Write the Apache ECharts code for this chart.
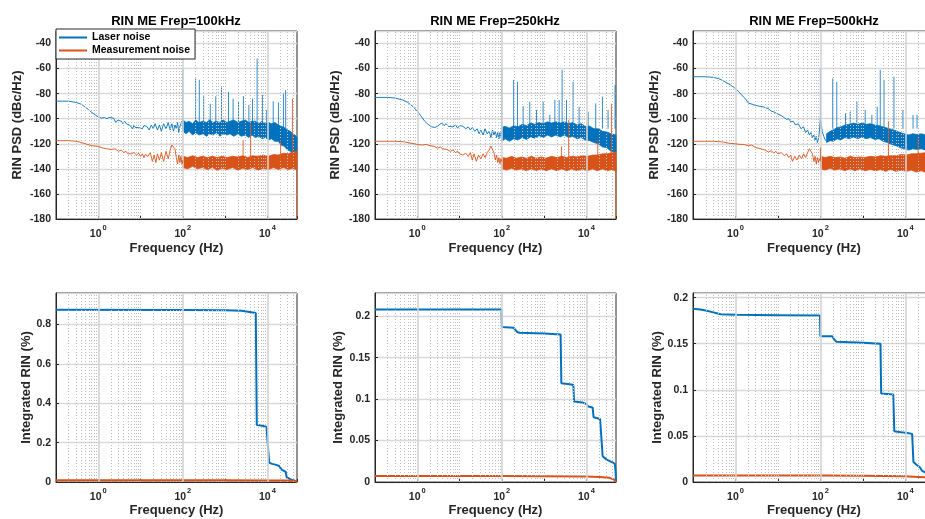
<!DOCTYPE html>
<html><head><meta charset="utf-8">
<script src="https://cdn.jsdelivr.net/npm/echarts@6/dist/echarts.min.js"></script>
<style>html,body{margin:0;padding:0;background:#fff}#c{width:925px;height:519px}</style>
</head><body><div id="c"></div>
<script>
// ---------------- DATA ----------------
const titles = ['RIN ME Frep=100kHz', 'RIN ME Frep=250kHz', 'RIN ME Frep=500kHz'];
const xTickExps = [0, 2, 4];          // labelled decades 10^0, 10^2, 10^4
const freqMin = 0.1, freqMax = 50000;

// ---- 100 kHz : RIN PSD [Hz, dBc/Hz]
const laserLine100 = [[0.1,-86],[0.2,-86],[0.3,-87],[0.4,-88.5],[0.5,-91],[0.6,-93],[0.7,-95],[0.85,-97],[1,-98.5],[1.2,-99.5],[1.4,-99],[1.6,-100],[1.8,-99],[2,-100.5],[2.3,-99.5],[2.6,-103],[2.9,-101],[3.2,-100],[3.5,-102],[3.8,-104],[4.2,-102],[4.6,-104],[5,-103],[5.5,-105],[6,-104],[6.5,-108],[7,-105],[7.5,-107],[8,-106],[9,-107],[10,-106],[11,-108],[12,-105.5],[13,-107],[14,-106],[16,-109],[18,-105],[20,-108],[22,-104],[25,-109],[28,-105],[31,-110],[35,-104],[40,-108],[45,-103],[50,-109],[55,-104],[60,-110],[65,-105],[70,-108],[75,-103],[80,-111],[85,-106],[90,-104],[95,-102],[100,-104]];
// noise band [Hz, lower dB, upper dB]
const laserBand100 = [[100,-110,-101],[120,-112,-103],[140,-110,-102],[170,-113,-104],[200,-111,-101],[240,-113,-103],[300,-112,-102],[360,-114,-103],[430,-112,-101],[520,-113,-103],[620,-111,-102],[750,-114,-103],[900,-112,-101],[1100,-113,-103],[1300,-112,-102],[1600,-114,-101],[2000,-112,-103],[2400,-114,-102],[3000,-113,-101],[3600,-115,-103],[4300,-113,-102],[5200,-115,-102],[6200,-114,-104],[7500,-116,-102],[9000,-115,-104],[10500,-117,-103],[12500,-116,-104],[15000,-118,-103],[18000,-118,-105],[21000,-121,-106],[25000,-122,-107],[30000,-125,-109],[35000,-126,-110],[40000,-129,-112],[45000,-128,-113],[50000,-130,-115]];
const laserSpikes100 = [[100,-60],[200,-68],[245,-69],[310,-82],[445,-88],[600,-82],[820,-75],[1200,-78.5],[1540,-84],[2070,-86],[2700,-82],[3640,-89],[4430,-84],[5700,-52],[7600,-81],[9600,-93],[13700,-86],[18200,-87],[23900,-80],[27000,-77]];
const measLine100 = [[0.1,-117.5],[0.2,-117.5],[0.3,-118],[0.4,-119],[0.5,-120],[0.7,-121.5],[1,-122],[1.3,-123.5],[1.6,-124],[2,-124.5],[2.5,-124],[3,-126],[3.5,-125],[4,-127],[4.5,-126],[5,-128],[5.5,-126.5],[6,-128],[7,-127],[8,-129],[9,-127.5],[10,-130],[11,-128],[12,-131],[13,-128.5],[15,-130],[17,-127],[19,-134],[21,-129],[23,-135],[25,-128],[28,-133],[31,-127],[35,-134],[40,-126],[45,-132],[50,-125],[55,-121],[60,-119.5],[65,-124],[70,-131],[75,-136],[80,-129],[85,-135],[90,-130],[95,-136],[100,-133]];
const measBand100 = [[100,-139,-130],[130,-140,-131],[170,-138,-129.5],[220,-140,-131],[290,-139,-130],[380,-140.5,-131],[500,-139,-130],[650,-141,-131],[850,-139.5,-130],[1100,-140.5,-131],[1500,-139,-130],[2000,-141,-130.5],[2600,-139.5,-129.5],[3400,-140.5,-131],[4500,-139,-129.5],[6000,-141,-130],[8000,-139.5,-129],[10500,-140.5,-130],[14000,-139,-128.5],[18000,-140.5,-129],[24000,-139,-127.5],[31000,-140.5,-128],[40000,-139.5,-126.5],[50000,-141,-126]];
const measSpikes100 = [[2660,-117],[4000,-104],[20500,-117],[39000,-84],[49500,-180]];

// ---- 250 kHz
const laserLine250 = [[0.1,-83],[0.2,-83],[0.3,-83.5],[0.45,-85],[0.6,-87],[0.8,-90.5],[1,-94],[1.2,-97.5],[1.5,-102],[1.8,-104.5],[2.2,-106.5],[2.6,-107],[3,-106],[3.4,-104.5],[3.8,-103.5],[4.3,-105.5],[4.8,-104],[5.4,-106],[6,-105],[7,-106.5],[8,-105],[9,-107.5],[10,-105.5],[11,-107],[12,-106],[14,-108],[16,-106.5],[18,-109],[20,-107],[23,-110],[26,-108],[29,-112],[32,-109],[36,-113],[40,-108],[45,-112],[50,-110],[55,-115],[60,-109],[65,-113],[70,-110],[75,-115],[80,-111],[85,-116],[90,-111],[95,-114],[100,-110]];
const laserBand250 = [[100,-118,-107],[120,-116,-106],[150,-118,-107.5],[190,-116,-105.5],[240,-117,-106.5],[300,-115,-104.5],[380,-116.5,-105.5],[480,-114.5,-103.5],[600,-115.5,-104.5],[760,-113.5,-103],[950,-115,-104],[1200,-113,-102.5],[1500,-114.5,-103.5],[1900,-113,-102.5],[2400,-114.5,-103.5],[3000,-113,-102.5],[3800,-115,-104],[4800,-114,-103],[6000,-116,-105],[7500,-115,-104],[9500,-117,-106],[12000,-117.5,-106],[15000,-119,-108],[19000,-120,-108],[24000,-122.5,-110],[30000,-123,-110.5],[38000,-126,-112],[50000,-127,-113]];
const laserSpikes250 = [[100,-60],[190,-69],[234,-70.5],[319,-90],[457,-86.5],[660,-93],[946,-86.5],[1360,-97],[1790,-85],[2260,-85],[2660,-61],[3380,-85],[4840,-70.5],[6710,-90.4],[10960,-94.4],[16600,-87.7],[23900,-82.4],[32500,-93],[47500,-73]];
const measLine250 = [[0.1,-118],[0.3,-118],[0.5,-118.5],[0.7,-119.5],[1,-120.5],[1.3,-121],[1.6,-120.5],[2,-121.5],[2.5,-122],[3,-123.5],[3.5,-122.5],[4,-124],[5,-124.5],[6,-126],[7,-125],[8,-127],[9,-126],[10,-128],[11,-126.5],[12,-129],[14,-127.5],[16,-130],[18,-127],[20,-133],[22,-128],[25,-134],[28,-129],[32,-132],[36,-128],[40,-131],[45,-127],[50,-125],[55,-122],[60,-121],[65,-127],[70,-133],[75,-129],[80,-135],[85,-131],[90,-136],[95,-132],[100,-134]];
const measBand250 = [[100,-140,-131],[130,-141,-131.5],[170,-139.5,-130],[220,-141,-131.5],[290,-140,-130.5],[380,-141.5,-131.5],[500,-140,-130],[650,-141.5,-131.5],[850,-140,-130.5],[1100,-141.5,-131.5],[1500,-140,-130],[2000,-141.5,-131],[2600,-140,-130],[3400,-141.5,-131],[4500,-140,-130],[6000,-141.5,-130.5],[8000,-140,-129.5],[10500,-141.5,-130],[14000,-140,-129],[18000,-141.5,-129],[24000,-140,-128],[31000,-141.5,-128],[40000,-140.5,-127],[50000,-142,-126.5]];
const measSpikes250 = [[2560,-122],[3800,-101],[18500,-117],[39000,-88],[49500,-180]];

// ---- 500 kHz
const laserLine500 = [[0.1,-66.5],[0.2,-66.5],[0.3,-67],[0.4,-68],[0.5,-69.5],[0.6,-71],[0.8,-73.5],[1,-76],[1.2,-78.5],[1.4,-81],[1.6,-83],[1.8,-85],[2,-87.5],[2.2,-89],[2.5,-88.5],[2.8,-89],[3.2,-89.5],[3.6,-90],[4,-90.5],[4.5,-90.5],[5,-91.5],[6,-92],[7,-94],[8,-94.5],[9,-95.5],[10,-96.5],[12,-97.5],[14,-99],[16,-100.5],[18,-100],[20,-102.5],[23,-102],[26,-105],[30,-104],[35,-108],[40,-106.5],[45,-111],[50,-109],[55,-113],[60,-111],[65,-115],[70,-113],[75,-117],[80,-114],[85,-119],[90,-116],[95,-110],[100,-100],[105,-104],[110,-110],[120,-114],[130,-117],[140,-118]];
const laserBand500 = [[140,-119,-112],[170,-117.5,-110],[200,-118,-109],[250,-116,-107],[300,-117,-106.5],[380,-115,-105],[480,-116,-104.5],[600,-114.5,-103.5],[760,-116,-104.5],[950,-114.5,-103.5],[1200,-116,-104.5],[1500,-115,-104],[1900,-116.5,-105],[2400,-116,-105.5],[3000,-118,-106.5],[3800,-119,-107.5],[4800,-120.5,-108.5],[6000,-121.5,-109.5],[7500,-123,-111],[9500,-124,-112],[12000,-125,-113],[15000,-124,-112],[19000,-124.5,-112.5],[24000,-124,-112],[30000,-125,-113],[38000,-125.5,-113.5],[50000,-126,-114]];
const laserSpikes500 = [[100,-60],[195,-67.8],[243,-70.5],[390,-95.7],[505,-94.4],[720,-86.4],[1135,-93],[1630,-97],[2180,-90.4],[2570,-61],[3150,-69],[5400,-66.5],[8800,-93],[15200,-97],[18900,-97]];
const measLine500 = [[0.1,-118],[0.3,-118],[0.5,-118.5],[0.7,-119.5],[1,-120],[1.3,-120.5],[1.6,-120.5],[2,-121.5],[2.4,-121],[3,-123],[4,-124],[5,-125],[6,-126.5],[7,-125.5],[8,-127.5],[9,-126],[10,-128],[12,-127],[14,-129.5],[16,-128],[18,-131],[20,-129],[22,-134],[25,-130],[28,-133],[32,-129],[36,-132],[40,-128],[45,-131],[50,-127],[55,-124],[60,-123],[65,-128],[70,-134],[75,-130],[80,-136],[85,-131],[90,-135],[95,-132],[100,-134]];
const measBand500 = [[100,-140,-130],[130,-141,-131],[170,-139.5,-130],[220,-141,-131],[290,-140,-130.5],[380,-141.5,-131.5],[500,-140,-130],[650,-141.5,-131],[850,-140,-130.5],[1100,-141.5,-131],[1500,-140.5,-130],[2000,-141.5,-130.5],[2600,-140.5,-129.5],[3400,-142,-130],[4500,-140.5,-129.5],[6000,-142,-129.5],[8000,-141,-128.5],[10500,-142,-129],[14000,-141,-128],[18000,-142.5,-128],[24000,-141.5,-127.5],[31000,-143,-127],[50000,-143,-127]];
const measSpikes500 = [[100,-123],[4000,-102],[20000,-115]];

// ---- Integrated RIN [Hz, %]
const intLaser100 = [[0.1,0.875],[100,0.874],[1000,0.872],[2500,0.870],[2600,0.862],[5300,0.858],[5600,0.290],[6500,0.288],[8000,0.284],[9500,0.280],[10500,0.273],[11000,0.098],[13000,0.092],[16000,0.087],[19000,0.081],[20500,0.072],[21500,0.063],[24000,0.058],[27000,0.052],[28500,0.024],[32000,0.018],[38000,0.010],[45000,0.006],[50000,0]];
const intMeas100 = [[0.1,0.0085],[100,0.0084],[1000,0.0083],[10000,0.0080],[30000,0.0072],[45000,0.005],[50000,0]];
const intLaser250 = [[0.1,0.208],[98,0.208],[100,0.187],[190,0.186],[200,0.184],[230,0.181],[260,0.180],[1000,0.179],[2450,0.178],[2550,0.119],[4000,0.118],[4900,0.117],[5100,0.097],[8000,0.096],[10000,0.094],[11000,0.091],[14000,0.090],[14800,0.078],[21000,0.076],[23000,0.075],[24200,0.031],[30000,0.027],[40000,0.024],[47000,0.022],[49000,0.012],[50000,0]];
const intMeas250 = [[0.1,0.0072],[100,0.0071],[1000,0.0070],[10000,0.0065],[20000,0.0060],[35000,0.0050],[45000,0.0030],[50000,0]];
const intLaser500 = [[0.1,0.188],[0.15,0.187],[0.2,0.186],[0.3,0.184],[0.45,0.182],[1,0.1815],[10,0.181],[98,0.1805],[100,0.158],[190,0.158],[210,0.155],[240,0.152],[1000,0.151],[2600,0.150],[2700,0.096],[5200,0.095],[5500,0.055],[8000,0.054],[12000,0.053],[14500,0.052],[15500,0.022],[18000,0.019],[22000,0.016],[25000,0.012],[30000,0.010],[40000,0.007],[50000,0]];
const intMeas500 = [[0.1,0.0071],[100,0.0070],[1000,0.0069],[10000,0.0062],[20000,0.0055],[50000,0.0045]];

const yLimsBottom = [[0, 0.96, 0.2], [0, 0.228, 0.05], [0, 0.205, 0.05]];

// ---------------- LAYOUT / STYLE ----------------
const BLUE = '#0072BD', ORANGE = '#D95319';
const FONT = '"Liberation Sans", Arial, Helvetica, sans-serif';
const colLeft = [56, 375, 693], colWidth = [241, 241, 242];
const rowTop = [31, 293], rowHeight = [188, 189];
const titleCenter = [176, 495, 814];
const yNameGapTop = [32, 33, 32.5], yNameGapBottom = [22, 30, 28.5];

const topSets = [
  {ll: laserLine100, lb: laserBand100, ls: laserSpikes100, ml: measLine100, mb: measBand100, ms: measSpikes100},
  {ll: laserLine250, lb: laserBand250, ls: laserSpikes250, ml: measLine250, mb: measBand250, ms: measSpikes250},
  {ll: laserLine500, lb: laserBand500, ls: laserSpikes500, ml: measLine500, mb: measBand500, ms: measSpikes500}
];
const botSets = [[intLaser100, intMeas100], [intLaser250, intMeas250], [intLaser500, intMeas500]];

// grid-line frequencies (axis decoration, like MATLAB's log minor grid)
const majorFreqs = xTickExps.map(e => Math.pow(10, e));
const minorFreqs = [];
for (let n = -1; n <= 4; n++) for (let k = 1; k <= 9; k++) {
  const v = +(k * Math.pow(10, n)).toPrecision(6);
  if (v <= freqMin || v >= freqMax) continue;
  if (k === 1 && xTickExps.includes(n)) continue;
  minorFreqs.push(v);
}

const grids = [], xAxes = [], yAxes = [], series = [];
const labelStyle = {fontFamily: FONT, fontWeight: 'bold', fontSize: 10.5, color: '#262626'};
const nameStyle = {fontFamily: FONT, fontWeight: 'bold', fontSize: 13, color: '#262626'};

function xFormatter(v) {
  const e = Math.log10(v), r = Math.round(e);
  if (Math.abs(e - r) > 1e-6 || !xTickExps.includes(r)) return '';
  return '{b|10}{s|' + r + '}';
}

function addGrid(row, col) {
  const gi = grids.length;
  grids.push({left: colLeft[col], width: colWidth[col], top: rowTop[row], height: rowHeight[row],
    outerBoundsMode: 'none', containLabel: false,
    show: true, borderColor: '#262626', borderWidth: 1, backgroundColor: '#fff'});
  xAxes.push({type: 'log', logBase: 10, gridIndex: gi, min: freqMin, max: freqMax,
    name: 'Frequency (Hz)', nameLocation: 'middle', nameGap: row === 0 ? 23 : 22, nameTextStyle: nameStyle,
    axisLine: {show: true, lineStyle: {color: '#262626', width: 1}},
    axisTick: {show: true, inside: true, length: 3, lineStyle: {color: '#262626'}},
    splitLine: {show: false}, minorTick: {show: false},
    axisLabel: {margin: 5, formatter: xFormatter, rich: {
      b: {fontFamily: FONT, fontWeight: 'bold', fontSize: 10.5, color: '#262626', lineHeight: 16, verticalAlign: 'bottom'},
      s: {fontFamily: FONT, fontWeight: 'bold', fontSize: 7.5, color: '#262626', lineHeight: 16, verticalAlign: 'top', padding: [0, 0, 0, 1]}
    }}
  });
  let y;
  if (row === 0) {
    y = {min: -180, max: -30, interval: 20, name: 'RIN PSD (dBc/Hz)', nameGap: yNameGapTop[col]};
  } else {
    const L = yLimsBottom[col];
    y = {min: L[0], max: L[1], interval: L[2], name: 'Integrated RIN (%)', nameGap: yNameGapBottom[col]};
  }
  yAxes.push(Object.assign(y, {type: 'value', gridIndex: gi, nameLocation: 'middle', nameRotate: 90, nameTextStyle: nameStyle,
    axisLine: {show: true, lineStyle: {color: '#262626', width: 1}},
    axisTick: {show: true, inside: true, length: 3, lineStyle: {color: '#262626'}},
    axisLabel: Object.assign({margin: 5, showMaxLabel: false}, labelStyle),
    splitLine: {show: true, lineStyle: {color: '#d9d9d9', width: 1.3}}
  }));
  series.push({type: 'line', xAxisIndex: gi, yAxisIndex: gi, data: [], silent: true, z: 1,
    markLine: {silent: true, symbol: ['none', 'none'], animation: false, label: {show: false},
      lineStyle: {color: '#bdbdbd', type: [1, 2], width: 1}, emphasis: {disabled: true},
      data: minorFreqs.map(v => ({xAxis: v}))}});
  series.push({type: 'line', xAxisIndex: gi, yAxisIndex: gi, data: [], silent: true, z: 1,
    markLine: {silent: true, symbol: ['none', 'none'], animation: false, label: {show: false},
      lineStyle: {color: '#d4d4d4', type: 'solid', width: 1.6}, emphasis: {disabled: true},
      data: majorFreqs.map(v => ({xAxis: v}))}});
  return gi;
}

function bandSeries(band, gi, color, z) {
  return {type: 'custom', xAxisIndex: gi, yAxisIndex: gi, silent: true, z: z,
    data: [[band[0][0], band[0][2]]],
    renderItem: function (params, api) {
      const up = band.map(r => api.coord([r[0], r[2]]));
      const lo = band.slice().reverse().map(r => api.coord([r[0], r[1]]));
      return {type: 'polygon', shape: {points: up.concat(lo)}, style: {fill: color, stroke: color, lineWidth: 0.8}};
    }};
}
function spikeData(spikes, base) {
  const d = [];
  spikes.forEach(s => { d.push([s[0], base], [s[0], s[1]], [s[0], '-']); });
  return d;
}
function lineSeries(name, data, gi, color, width, z, opacity) {
  return {type: 'line', name: name, xAxisIndex: gi, yAxisIndex: gi, data: data, symbol: 'none', showSymbol: false,
    silent: true, z: z, connectNulls: false,
    lineStyle: {color: color, width: width, opacity: opacity == null ? 1 : opacity}, itemStyle: {color: color}};
}

topSets.forEach((s, col) => {
  const gi = addGrid(0, col);
  series.push(lineSeries('Laser noise', s.ll, gi, BLUE, 0.9, 3));
  series.push(bandSeries(s.lb, gi, BLUE, 2));
  series.push(lineSeries('laser spikes', spikeData(s.ls, -108), gi, BLUE, 1, 3, 0.8));
  series.push(lineSeries('Measurement noise', s.ml, gi, ORANGE, 0.9, 5));
  series.push(bandSeries(s.mb, gi, ORANGE, 4));
  series.push(lineSeries('meas spikes', spikeData(s.ms, -133), gi, ORANGE, 1, 5, 0.85));
});
botSets.forEach((s, col) => {
  const gi = addGrid(1, col);
  series.push(lineSeries('Laser integrated', s[0], gi, BLUE, 2, 3));
  series.push(lineSeries('Measurement integrated', s[1], gi, ORANGE, 2, 4));
});

const chart = echarts.init(document.getElementById('c'), null, {renderer: 'canvas'});
chart.setOption({
  animation: false,
  backgroundColor: '#fff',
  title: titles.map((t, i) => ({text: t, left: titleCenter[i], top: 15, textAlign: 'center', padding: 0,
    textStyle: {fontFamily: FONT, fontWeight: 'bold', fontSize: 13, color: '#000'}})),
  legend: {data: [{name: 'Laser noise', icon: 'rect'}, {name: 'Measurement noise', icon: 'rect'}],
    orient: 'vertical', left: 56, top: 29,
    padding: [2, 5, 2, 3], itemGap: 0, itemWidth: 28, itemHeight: 2, selectedMode: false,
    backgroundColor: '#fff', borderColor: '#262626', borderWidth: 1, borderRadius: 0, z: 10,
    textStyle: {fontFamily: FONT, fontWeight: 'bold', fontSize: 10.5, color: '#000', lineHeight: 13}},
  grid: grids, xAxis: xAxes, yAxis: yAxes, series: series
});
</script></body></html>
